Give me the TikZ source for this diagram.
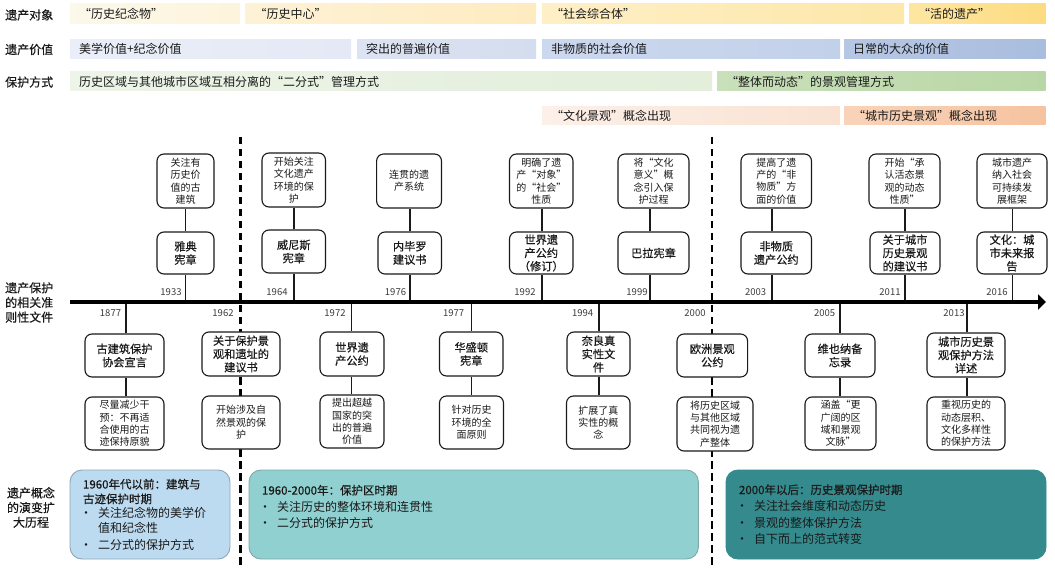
\documentclass[tikz,border=0pt]{standalone}
\usepackage{fontspec}
\setmainfont{Noto Sans CJK SC}
\newfontfamily\semib[FakeBold=0.45]{Noto Sans CJK SC}
\usetikzlibrary{arrows.meta}
\definecolor{ink}{HTML}{1A1A1A}
\definecolor{pa}{HTML}{BDDBF0}
\definecolor{pae}{HTML}{8FA6B8}
\definecolor{pb}{HTML}{90D0D0}
\definecolor{pbe}{HTML}{7FA8A8}
\definecolor{pc}{HTML}{348A8C}
\tikzset{
  x=1pt,y=-1pt,
  sidelab/.style={font=\fontsize{12}{14.7}\selectfont\semib,text=ink,inner sep=0pt,align=center},
  barbox/.style={inner ysep=0pt,inner xsep=9pt,align=left,font=\fontsize{12}{14}\selectfont,text=ink},
  titlebox/.style={draw=ink,line width=1.1pt,fill=white,rounded corners=7pt,inner sep=0pt,align=center,font=\fontsize{11.2}{13.3}\selectfont\semib,text=ink},
  descbox/.style={draw=ink,line width=1.1pt,fill=white,rounded corners=7pt,inner sep=0pt,align=center,font=\fontsize{10}{12.4}\selectfont,text=ink},
  yearlab/.style={font=\fontsize{9.5}{11}\selectfont,text=ink!85,inner sep=0pt},
  conn/.style={draw=ink,line width=1.1pt},
  era/.style={line width=2.6pt,draw=black,dash pattern=on 7.5pt off 4.5pt},
  panelbox/.style={rounded corners=12pt,line width=0.9pt,inner ysep=0pt,inner xsep=13pt,align=left,font=\fontsize{12}{16.5}\selectfont,text=ink}
}
\newcommand{\bx}[7][]{\node[#1,minimum width={(#5)-(#3)},minimum height={(#6)-(#4)}] (#2) at ({(#3+#5)/2},{(#4+#6)/2}) {#7};}
\newcommand{\br}[8]{\definecolor{barL}{HTML}{#1}\definecolor{barR}{HTML}{#2}\pgfmathsetmacro{\tw}{#6-#4-18}\node[barbox,left color=barL,right color=barR,text width=\tw pt,minimum height={(#7)-(#5)}] (#3) at ({(#4+#6)/2},{(#5+#7)/2}) {#8};}
\newcommand{\pl}[7]{\pgfmathsetmacro{\tw}{#5-#3-26}\node[panelbox,#1,text width=\tw pt,minimum height={(#6)-(#4)}] (#2) at ({(#3+#5)/2},{(#4+#6)/2}) {#7};}
\newcommand{\pth}[1]{{\fontsize{11.5}{14}\selectfont\semib #1}}
\newcommand{\bul}{\makebox[15pt][l]{\hspace*{-3pt}•}}
\begin{document}
\begin{tikzpicture}
\fill[white,use as bounding box] (0,0) rectangle (1055,569);

% top bars
\br{FCF8EA}{FDF4DC}{o1}{70}{4}{240}{23.5}{“历史纪念物”}
\br{FEF2D6}{FEEBC0}{o2}{245.7}{4}{536}{23.5}{“历史中心”}
\br{FEEFC6}{FDE7A9}{o3}{542}{4}{904}{23.5}{“社会综合体”}
\br{FEE6A2}{FDDC80}{o4}{909}{4}{1045.5}{23.5}{“活的遗产”}
\br{EAEEF8}{E4E9F5}{v1}{70}{40}{351}{58.7}{美学价值+纪念价值}
\br{DCE3F2}{D4DDEF}{v2}{357}{40}{536}{58.7}{突出的普遍价值}
\br{CBD8EE}{C2D1EA}{v3}{542}{40}{840}{58.7}{非物质的社会价值}
\br{B6C7E4}{A9BDDE}{v4}{844}{40}{1045.5}{58.7}{日常的大众的价值}
\br{EDF4E8}{E3EEDB}{m1}{70}{72}{712}{91}{历史区域与其他城市区域互相分离的“二分式”管理方式}
\br{C9E0BA}{B9D7A6}{m2}{717}{72}{1045.5}{91}{“整体而动态”的景观管理方式}
\br{FCF0E8}{F9E2D2}{c1}{542}{106.5}{840}{125}{“文化景观”概念出现}
\br{F9D3B9}{F5C3A0}{c2}{844}{106.5}{1045.5}{125}{“城市历史景观”概念出现}

% side labels
\node[sidelab,anchor=west] (s1) at (5,15) {遗产对象};
\node[sidelab,anchor=west] (s2) at (5,49.5) {遗产价值};
\node[sidelab,anchor=west] (s3) at (5,82) {保护方式};
\node[sidelab,anchor=west] (s4) at (5,302.5) {遗产保护\\的相关准\\则性文件};
\node[sidelab] (s5) at (31,507.5) {遗产概念\\的演变扩\\大历程};

% era dividers
\coordinate (e1a) at (240.4,137);
\coordinate (e1b) at (240.4,566);
\coordinate (e2a) at (712,137);
\coordinate (e2b) at (712,566);
\draw[era] (e1a) -- (e1b);
\draw[era] (e2a) -- (e2b);

% axis anchors
\coordinate (axL) at (70,302);
\coordinate (axR) at (1046,302);
\foreach \n/\x in {a33/185.6,a64/294,a76/410,a92/542,a99/650,a03/772,a11/905,a16/1012.6,a77/126,a72/351.6,a87/471.6,a94/599,a05/840,a13/967}
  {\coordinate (\n) at (\x,302);}

% boxes above the axis
\bx[descbox]{d33}{157}{154}{214}{208}{关注有\\历史价\\值的古\\建筑}
\bx[titlebox]{t33}{157}{232}{214}{274}{雅典\\宪章}
\bx[descbox]{d64}{262}{153}{325.5}{207}{开始关注\\文化遗产\\环境的保\\护}
\bx[titlebox]{t64}{262}{230}{325.5}{273}{威尼斯\\宪章}
\bx[descbox]{d76}{376.6}{154}{441.5}{208}{连贯的遗\\产系统}
\bx[titlebox]{t76}{378}{232}{441.5}{274}{内毕罗\\建议书}
\bx[descbox]{d92}{509.5}{154}{573}{208}{明确了遗\\产“对象”\\的“社会”\\性质}
\bx[titlebox]{t92}{509.5}{232}{573}{274}{世界遗\\产公约\\（修订）}
\bx[descbox]{d99}{618}{154}{689}{208}{将“文化\\意义”概\\念引入保\\护过程}
\bx[titlebox]{t99}{618}{232}{689}{274}{巴拉宪章}
\bx[descbox]{d03}{741}{154}{811.5}{208}{提高了遗\\产的“非\\物质”方\\面的价值}
\bx[titlebox]{t03}{741}{232}{811.5}{274}{非物质\\遗产公约}
\bx[descbox]{d11}{869}{154}{940}{208}{开始“承\\认活态景\\观的动态\\性质”}
\bx[titlebox]{t11}{870}{232}{940}{274}{关于城市\\历史景观\\的建议书}
\bx[descbox]{d16}{977}{154}{1047}{208}{城市遗产\\纳入社会\\可持续发\\展框架}
\bx[titlebox]{t16}{977}{232}{1047}{274}{文化：城\\市未来报\\告}

% boxes below the axis
\bx[titlebox]{t77}{85}{334}{164}{377}{古建筑保护\\协会宣言}
\bx[descbox]{d77}{85}{397}{164}{450}{尽量减少干\\预：不再适\\合使用的古\\迹保持原貌}
\bx[titlebox]{t62}{202}{332}{280}{376}{关于保护景\\观和遗址的\\建议书}
\bx[descbox]{d62}{202}{396}{280}{449}{开始涉及自\\然景观的保\\护}
\bx[titlebox]{t72}{320}{332}{384}{376}{世界遗\\产公约}
\bx[descbox]{d72}{320}{395}{384}{448}{提出超越\\国家的突\\出的普遍\\价值}
\bx[titlebox]{t87}{439.5}{332}{503}{376}{华盛顿\\宪章}
\bx[descbox]{d87}{439.5}{396}{503.5}{449}{针对历史\\环境的全\\面原则}
\bx[titlebox]{t94}{567}{332}{630}{376}{奈良真\\实性文\\件}
\bx[descbox]{d94}{566.5}{396}{630}{449}{扩展了真\\实性的概\\念}
\bx[titlebox]{t00}{677}{334}{747.6}{377}{欧洲景观\\公约}
\bx[descbox]{d00}{677}{397}{753}{451}{将历史区域\\与其他区域\\共同视为遗\\产整体}
\bx[titlebox]{t05}{805}{334}{875}{377}{维也纳备\\忘录}
\bx[descbox]{d05}{805}{397}{876}{450}{涵盖“更\\广阔的区\\域和景观\\文脉”}
\bx[titlebox]{t13}{927}{333}{1005}{377}{城市历史景\\观保护方法\\详述}
\bx[descbox]{d13}{927}{397}{1005}{450}{重视历史的\\动态层积、\\文化多样性\\的保护方法}

% connectors
\foreach \k in {33,64,76,92,99,03,11,16}{
  \draw[conn] (a\k) -- (a\k |- t\k.south);
  \draw[conn] (a\k |- t\k.north) -- (a\k |- d\k.south);
}
\foreach \k in {77,72,87,94,05,13}{
  \draw[conn] (a\k) -- (a\k |- t\k.north);
  \draw[conn] (a\k |- t\k.south) -- (a\k |- d\k.north);
}
\draw[line width=3.4pt,draw=black,-{Triangle[length=8pt,width=15pt]}] (axL) -- (axR);

% years
\foreach \t/\x in {1933/171,1964/277,1976/395.5,1992/525,1999/637,2003/755.6,2011/890,2016/997}
  {\node[yearlab] (y\t) at (\x,292) {\t};}
\foreach \t/\x in {1877/110.5,1962/223,1972/335,1977/453.7,1994/582.6,2000/695,2005/824.6,2013/954}
  {\node[yearlab] (y\t) at (\x,313) {\t};}

% period panels
\pl{fill=pa,draw=pae}{p1}{70}{470}{230}{559}{\fontsize{12}{14.7}\selectfont\pth{1960年代以前：建筑与}\\\pth{古迹保护时期}\\\bul 关注纪念物的美学价\\\hspace*{15pt}值和纪念性\\\bul 二分式的保护方式}
\pl{fill=pb,draw=pbe}{p2}{249}{470}{698.4}{559}{\pth{1960-2000年：保护区时期}\\\bul 关注历史的整体环境和连贯性\\\bul 二分式的保护方式\\\mbox{}}
\pl{fill=pc,draw=pc}{p3}{726}{470}{1046}{559}{\pth{2000年以后：历史景观保护时期}\\\bul 关注社会维度和动态历史\\\bul 景观的整体保护方法\\\bul 自下而上的范式转变}
\end{tikzpicture}
\end{document}
